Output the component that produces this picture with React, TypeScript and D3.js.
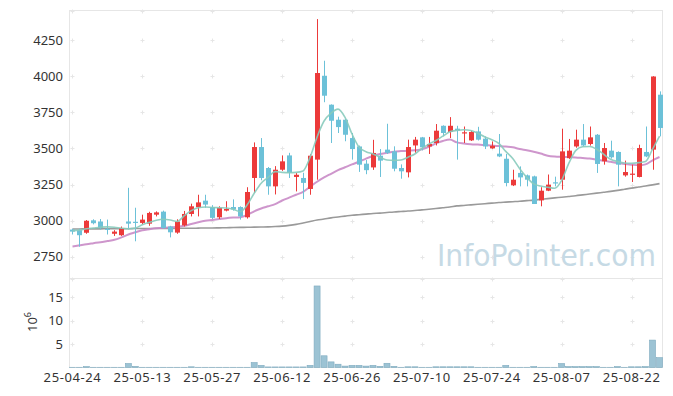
import React, { useEffect, useRef } from 'react';
import * as d3 from 'd3';

const dates = [
  '25-04-24', '25-04-25', '25-04-28', '25-04-29', '25-04-30', '25-05-02', '25-05-07', '25-05-08', '25-05-09', '25-05-12',
  '25-05-13', '25-05-14', '25-05-15', '25-05-16', '25-05-19', '25-05-20', '25-05-21', '25-05-22', '25-05-23', '25-05-26',
  '25-05-27', '25-05-28', '25-05-29', '25-05-30', '25-06-02', '25-06-04', '25-06-05', '25-06-09', '25-06-10', '25-06-11',
  '25-06-12', '25-06-13', '25-06-16', '25-06-17', '25-06-18', '25-06-19', '25-06-20', '25-06-23', '25-06-24', '25-06-25',
  '25-06-26', '25-06-27', '25-06-30', '25-07-01', '25-07-02', '25-07-03', '25-07-04', '25-07-07', '25-07-08', '25-07-09',
  '25-07-10', '25-07-11', '25-07-14', '25-07-15', '25-07-16', '25-07-17', '25-07-18', '25-07-21', '25-07-22', '25-07-23',
  '25-07-24', '25-07-25', '25-07-28', '25-07-29', '25-07-30', '25-07-31', '25-08-01', '25-08-04', '25-08-05', '25-08-06',
  '25-08-07', '25-08-08', '25-08-11', '25-08-12', '25-08-13', '25-08-14', '25-08-18', '25-08-19', '25-08-20', '25-08-21',
  '25-08-22', '25-08-25', '25-08-26', '25-08-27', '25-08-28',
];

const open = [
  2939, 2935, 2917, 3003, 2995, 2945, 2910, 2900, 2995, 2993,
  2985, 2980, 3042, 3063, 2960, 2918, 2968, 3047, 3093, 3139,
  3095, 3024, 3070, 3095, 3095, 3024, 3296, 3510, 3365, 3238,
  3353, 3452, 3303, 3296, 3220, 3423, 4003, 3803, 3699, 3699,
  3572, 3514, 3395, 3369, 3450, 3492, 3480, 3365, 3335, 3521,
  3577, 3514, 3538, 3657, 3614, 3637, 3607, 3556, 3618, 3568,
  3501, 3464, 3429, 3245, 3331, 3314, 3307, 3141, 3208, 3266,
  3284, 3433, 3514, 3561, 3531, 3595, 3411, 3485, 3476, 3314,
  3322, 3303, 3476, 3492, 3872,
];
const high = [
  2945, 2945, 3005, 3010, 3012, 3008, 2935, 2960, 3228, 3090,
  3042, 3062, 3065, 3070, 2965, 3010, 3068, 3118, 3180, 3180,
  3108, 3100, 3135, 3148, 3100, 3232, 3542, 3572, 3372, 3378,
  3452, 3470, 3330, 3332, 3460, 4395, 4107, 3805, 3720, 3705,
  3607, 3520, 3420, 3560, 3496, 3671, 3515, 3390, 3561, 3580,
  3580, 3580, 3669, 3660, 3717, 3657, 3652, 3622, 3650, 3584,
  3549, 3600, 3462, 3353, 3376, 3320, 3312, 3232, 3320, 3305,
  3637, 3566, 3630, 3669, 3652, 3600, 3538, 3554, 3480, 3416,
  3388, 3526, 3652, 4000, 3895,
];
const low = [
  2905, 2820, 2910, 2975, 2940, 2905, 2895, 2895, 2940, 2858,
  2975, 2965, 3030, 2945, 2885, 2910, 2960, 3030, 3030, 3090,
  3012, 3012, 3065, 3070, 3008, 3015, 3192, 3280, 3180, 3182,
  3345, 3296, 3203, 3150, 3180, 3284, 3820, 3538, 3607, 3550,
  3423, 3338, 3322, 3352, 3303, 3462, 3342, 3291, 3300, 3470,
  3487, 3462, 3521, 3584, 3572, 3423, 3538, 3552, 3555, 3496,
  3498, 3440, 3238, 3240, 3238, 3238, 3116, 3100, 3205, 3238,
  3215, 3428, 3505, 3514, 3520, 3331, 3388, 3430, 3238, 3305,
  3268, 3300, 3440, 3353, 3584,
];
const close = [
  2925, 2900, 3000, 2983, 2948, 2940, 2925, 2950, 2980, 2988,
  3008, 3054, 3058, 2950, 2920, 2995, 3047, 3100, 3127, 3112,
  3020, 3089, 3082, 3078, 3030, 3199, 3510, 3296, 3238, 3353,
  3411, 3331, 3318, 3262, 3450, 4022, 3865, 3692, 3648, 3595,
  3496, 3388, 3350, 3469, 3416, 3470, 3360, 3342, 3510, 3561,
  3508, 3531, 3623, 3607, 3657, 3623, 3612, 3614, 3561, 3514,
  3519, 3445, 3261, 3284, 3300, 3284, 3116, 3208, 3250, 3262,
  3480, 3485, 3561, 3521, 3577, 3393, 3503, 3439, 3388, 3337,
  3326, 3503, 3445, 3998, 3642,
];

// volume in millions of shares
const volume = [
  0.05, 0.05, 0.2, 0.05, 0.05, 0.05, 0.05, 0.05, 0.85, 0.25,
  0.05, 0.05, 0.05, 0.05, 0.05, 0.05, 0.05, 0.15, 0.05, 0.05,
  0.05, 0.05, 0.05, 0.05, 0.05, 0.05, 1.05, 0.45, 0.12, 0.12,
  0.12, 0.12, 0.12, 0.12, 0.45, 17.4, 2.5, 1.2, 0.7, 0.3,
  0.45, 0.45, 0.3, 0.45, 0.25, 0.9, 0.25, 0.05, 0.15, 0.15,
  0.05, 0.05, 0.15, 0.15, 0.15, 0.15, 0.15, 0.15, 0.05, 0.05,
  0.05, 0.05, 0.45, 0.05, 0.05, 0.05, 0.2, 0.05, 0.05, 0.05,
  0.85, 0.2, 0.2, 0.2, 0.2, 0.2, 0.05, 0.05, 0.2, 0.05,
  0.15, 0.15, 0.2, 5.85, 2.1,
];

const ma5 = [
  2930, 2935, 2945, 2950, 2955, 2958, 2955, 2948, 2945, 2950,
  2972, 2989, 3003, 3010, 3005, 2995, 3035, 3070, 3090, 3095,
  3092, 3090, 3088, 3080, 3062, 3110, 3190, 3260, 3300, 3340,
  3335, 3333, 3335, 3345, 3440, 3580, 3690, 3745, 3772, 3715,
  3600, 3510, 3478, 3462, 3440, 3420, 3418, 3420, 3440, 3462,
  3500, 3530, 3555, 3585, 3615, 3625, 3630, 3625, 3605, 3580,
  3561, 3535, 3480, 3430, 3360, 3300, 3255, 3240, 3232, 3225,
  3280, 3395, 3485, 3512, 3514, 3495, 3460, 3425, 3410, 3400,
  3398, 3402, 3410, 3495, 3585,
];
const ma20 = [
  2822, 2830, 2838, 2845, 2852, 2860, 2868, 2885, 2905, 2920,
  2935, 2942, 2948, 2952, 2955, 2958, 2965, 2978, 2990, 3000,
  3006, 3012, 3018, 3022, 3025, 3040, 3065, 3085, 3100, 3115,
  3140, 3160, 3180, 3200, 3235, 3270, 3300, 3325, 3350, 3370,
  3390, 3408, 3430, 3448, 3462, 3470, 3478, 3482, 3485, 3487,
  3495, 3512, 3535, 3552, 3562, 3542, 3535, 3530, 3527, 3524,
  3520, 3517, 3514, 3508, 3496, 3488, 3478, 3465, 3450, 3444,
  3442, 3441, 3438, 3434, 3430, 3423, 3416, 3408, 3400, 3393,
  3388, 3384, 3390, 3418, 3441,
];
const ma60 = [
  2943, 2943, 2944, 2944, 2944, 2945, 2945, 2945, 2945, 2946,
  2946, 2946, 2947, 2947, 2947, 2948, 2948, 2948, 2949, 2950,
  2950, 2951, 2952, 2953, 2954, 2955, 2956, 2957, 2958, 2960,
  2963, 2968, 2975, 2985, 2995, 3005, 3012, 3020, 3026, 3032,
  3038, 3042, 3046, 3050, 3053, 3057, 3061, 3064, 3067, 3071,
  3075, 3080, 3085, 3090, 3095, 3103, 3106, 3110, 3114, 3118,
  3122, 3126, 3129, 3132, 3135, 3139, 3143, 3148, 3153, 3158,
  3163, 3168, 3173, 3179, 3185, 3191, 3197, 3203, 3210, 3218,
  3226, 3233, 3240, 3248, 3257,
];

const priceTicks = [2750, 3000, 3250, 3500, 3750, 4000, 4250];
const volumeTicks = [5, 10, 15];

const UP = '#ec3a3a';
const DOWN = '#6cc1d8';
const FONT = '"Noto Sans", sans-serif';

export default function App() {
  const svgRef = useRef<SVGSVGElement>(null);

  useEffect(() => {
    if (!svgRef.current) return;
    const svg = d3.select(svgRef.current);
    svg.selectAll('*').remove();

    const left = 69, right = 663, top = 10, mid = 278, bottom = 367.5;

    const x = d3.scaleBand<number>()
      .domain(d3.range(dates.length))
      .range([left, right]);
    const cx = (i: number) => (x(i) as number) + x.bandwidth() / 2;

    const y = d3.scaleLinear().domain([2604, 4458]).range([mid, top]);
    const yv = d3.scaleLinear().domain([0, 19.1]).range([bottom, mid]);

    svg.append('rect').attr('width', 673).attr('height', 396).attr('fill', '#fff');

    // panel frames
    const frame = svg.append('g').attr('fill', 'none').attr('stroke', '#e6e6e6').attr('stroke-width', 1);
    frame.append('rect').attr('x', left + 0.5).attr('y', top + 0.5).attr('width', right - left - 1).attr('height', mid - top);
    frame.append('rect').attr('x', left + 0.5).attr('y', mid + 0.5).attr('width', right - left - 1).attr('height', bottom - mid - 0.5);

    // cross markers instead of grid lines
    const xTickIdx = d3.range(0, dates.length, 10);
    const crosses: [number, number][] = [];
    xTickIdx.forEach(i => {
      priceTicks.forEach(v => crosses.push([cx(i), y(v)]));
      volumeTicks.forEach(v => crosses.push([cx(i), yv(v)]));
      crosses.push([cx(i), top + 0.5]);
      crosses.push([cx(i), mid + 0.5]);
    });
    const cg = svg.append('g').attr('stroke', '#e6e6e6').attr('stroke-width', 1);
    crosses.forEach(([px, py]) => {
      const rx = Math.round(px) + 0.5, ry = Math.round(py) + 0.5;
      cg.append('line').attr('x1', rx - 2).attr('x2', rx + 2).attr('y1', ry).attr('y2', ry);
      cg.append('line').attr('x1', rx).attr('x2', rx).attr('y1', ry - 2).attr('y2', ry + 2);
    });

    // watermark
    svg.append('text')
      .attr('x', 437).attr('y', 266)
      .attr('font-family', '"DejaVu Sans", sans-serif')
      .attr('font-size', 30)
      .attr('fill', '#c6dae5')
      .attr('textLength', 219)
      .attr('lengthAdjust', 'spacingAndGlyphs')
      .text('InfoPointer.com');

    // axis labels
    const lab = svg.append('g').attr('font-family', FONT).attr('font-size', 13).attr('fill', '#333');
    priceTicks.forEach(v => {
      lab.append('text').attr('x', 63).attr('y', y(v)).attr('dy', '0.35em').attr('text-anchor', 'end').text(v);
    });
    volumeTicks.forEach(v => {
      lab.append('text').attr('x', 63).attr('y', yv(v)).attr('dy', '0.35em').attr('text-anchor', 'end').text(v);
    });
    xTickIdx.forEach(i => {
      lab.append('text').attr('x', cx(i)).attr('y', 382).attr('text-anchor', 'middle')
        .attr('letter-spacing', 0.6).text(dates[i]);
    });
    const unit = lab.append('text')
      .attr('transform', 'translate(37,322) rotate(-90)')
      .attr('text-anchor', 'middle');
    unit.append('tspan').text('10');
    unit.append('tspan').attr('font-size', 9).attr('dy', -6).text('6');

    // volume bars
    svg.append('g').selectAll('rect')
      .data(volume)
      .enter()
      .append('rect')
      .attr('x', (_, i) => cx(i) - 3)
      .attr('width', 6)
      .attr('y', d => yv(d))
      .attr('height', d => bottom - yv(d))
      .attr('fill', '#9cc3d4')
      .attr('stroke', '#7eaabf')
      .attr('stroke-width', 0.6);

    // moving averages
    const line = (vals: number[]) => d3.line<number>()
      .x((_, i) => cx(i))
      .y(d => y(d))
      .curve(d3.curveMonotoneX)(vals);
    svg.append('path').attr('d', line(ma60)).attr('fill', 'none').attr('stroke', '#9a9a9a').attr('stroke-width', 1.6);
    svg.append('path').attr('d', line(ma20)).attr('fill', 'none').attr('stroke', '#c98bc6').attr('stroke-width', 2).attr('stroke-opacity', 0.9);

    // candles
    const cd = svg.append('g');
    dates.forEach((_, i) => {
      const o = open[i], c = close[i];
      const col = c >= o ? UP : DOWN;
      const px = Math.round(cx(i)) + 0.5;
      cd.append('line')
        .attr('x1', px).attr('x2', px)
        .attr('y1', y(high[i])).attr('y2', y(low[i]))
        .attr('stroke', col).attr('stroke-width', 1);
      const yt = y(Math.max(o, c)), yb = y(Math.min(o, c));
      cd.append('rect')
        .attr('x', px - 2.5).attr('width', 5)
        .attr('y', yt).attr('height', Math.max(1.2, yb - yt))
        .attr('fill', col);
    });

    svg.append('path').attr('d', line(ma5)).attr('fill', 'none').attr('stroke', '#88cbbd').attr('stroke-width', 1.6).attr('stroke-opacity', 0.9);
  }, []);

  return (
    <svg ref={svgRef} width={673} height={396} style={{ position: 'absolute', left: 0, top: 0 }} />
  );
}
